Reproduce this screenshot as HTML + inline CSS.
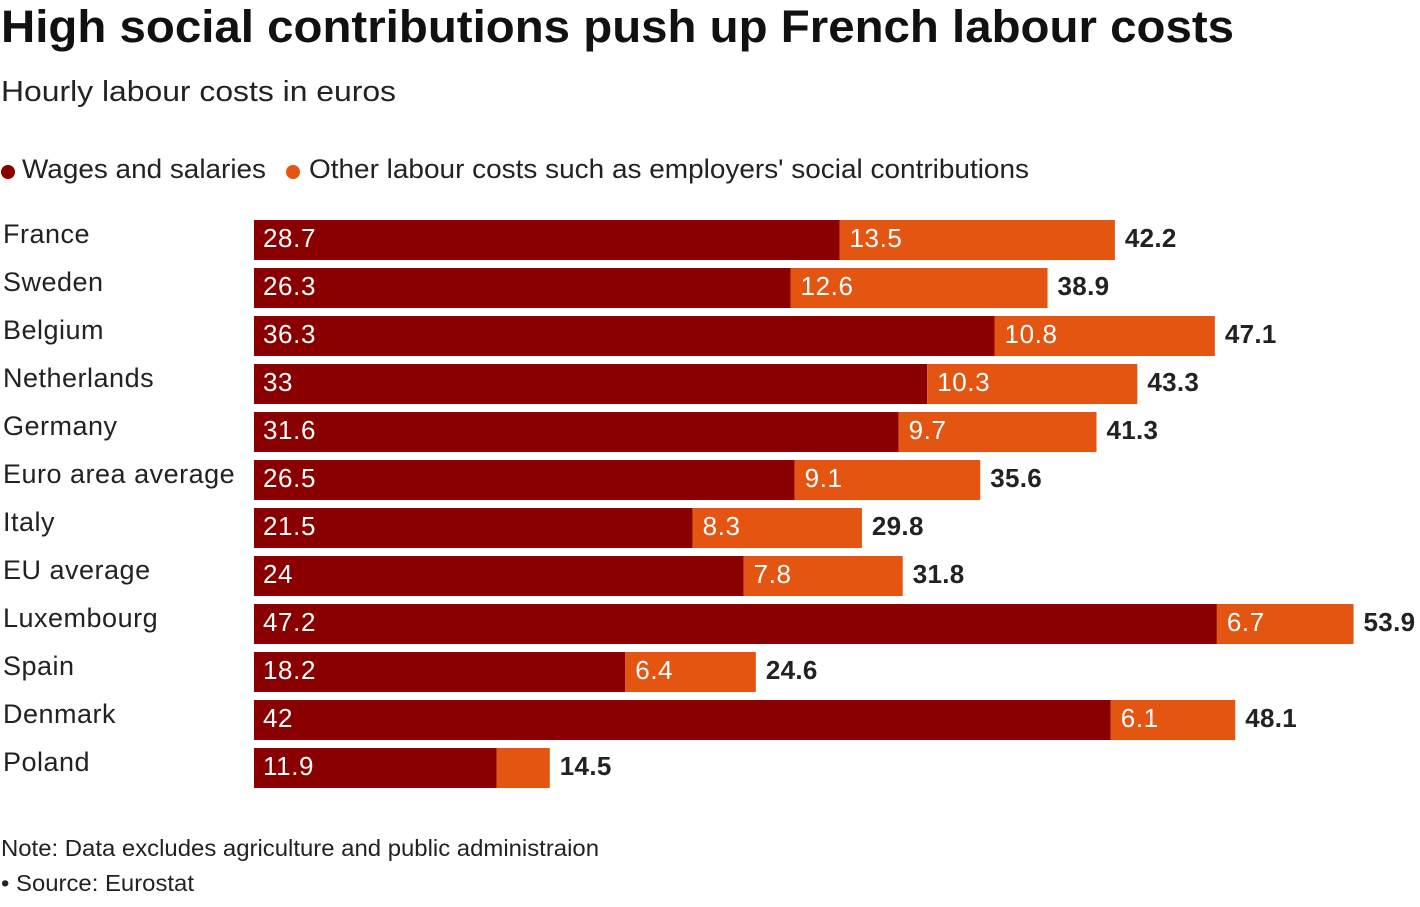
<!DOCTYPE html>
<html><head><meta charset="utf-8">
<style>
body{margin:0;background:#fff;font-family:"Liberation Sans",Arial,sans-serif;color:#222;}
svg text{font-family:"Liberation Sans",Arial,sans-serif;}
</style></head>
<body>
<svg id="chart" width="1420" height="902" viewBox="0 0 1420 902" xmlns="http://www.w3.org/2000/svg">
<text x="1" y="42" font-size="45" font-weight="bold" textLength="1233" lengthAdjust="spacingAndGlyphs" fill="#111">High social contributions push up French labour costs</text>
<text x="1" y="101" font-size="29" textLength="395" lengthAdjust="spacingAndGlyphs" fill="#222">Hourly labour costs in euros</text>
<g>
<circle cx="8" cy="172" r="7" fill="#8a0000"/>
<text x="22" y="178" font-size="27" textLength="244" lengthAdjust="spacingAndGlyphs" fill="#222">Wages and salaries</text>
<circle cx="293" cy="172" r="7" fill="#e55512"/>
<text x="309" y="178" font-size="27" textLength="720" lengthAdjust="spacingAndGlyphs" fill="#222">Other labour costs such as employers' social contributions</text>
</g>
<g id="bars"></g>
<text x="1" y="856" font-size="23" textLength="598" lengthAdjust="spacingAndGlyphs" fill="#222">Note: Data excludes agriculture and public administraion</text>
<text x="1" y="891" font-size="23" textLength="193" lengthAdjust="spacingAndGlyphs" fill="#222">• Source: Eurostat</text>
</svg>
<script>
const categories=["France","Sweden","Belgium","Netherlands","Germany","Euro area average","Italy","EU average","Luxembourg","Spain","Denmark","Poland"];
const wages=[28.7,26.3,36.3,33,31.6,26.5,21.5,24,47.2,18.2,42,11.9];
const other=[13.5,12.6,10.8,10.3,9.7,9.1,8.3,7.8,6.7,6.4,6.1,2.6];
const totals=[42.2,38.9,47.1,43.3,41.3,35.6,29.8,31.8,53.9,24.6,48.1,14.5];
const otherLabels=["13.5","12.6","10.8","10.3","9.7","9.1","8.3","7.8","6.7","6.4","6.1",""];
const NS="http://www.w3.org/2000/svg";
const x0=254, scale=20.4;
const xs=v=>x0+v*scale;
const ys=i=>220+i*48;
const g=document.getElementById("bars");
function el(t,a,txt){const e=document.createElementNS(NS,t);for(const k in a)e.setAttribute(k,a[k]);if(txt!==undefined)e.textContent=txt;g.appendChild(e);return e;}
categories.forEach((c,i)=>{
  const y=ys(i);
  const lab=el("text",{x:3,y:y+23,"font-size":27,"letter-spacing":"0.5",fill:"#222"},c);
  
  
  const r1=el("rect",{x:xs(0),y:y,width:xs(wages[i])-xs(0),height:40,fill:"#8a0000"});
  
  
  const r2=el("rect",{x:xs(wages[i]),y:y,width:xs(wages[i]+other[i])-xs(wages[i]),height:40,fill:"#e55512"});
  
  
  const t1=el("text",{x:xs(0)+9,y:y+27,"font-size":26,"letter-spacing":"0.6",fill:"#fff"},String(wages[i]));
  
  
  const t2=el("text",{x:xs(wages[i])+10,y:y+27,"font-size":26,"letter-spacing":"0.6",fill:"#fff"},otherLabels[i]);
  
  
  const t3=el("text",{x:xs(wages[i]+other[i])+10,y:y+27,"font-size":26,"font-weight":"bold","letter-spacing":"0.3",fill:"#222"},totals[i].toFixed(1));
  
  
});
</script>
</body></html>
